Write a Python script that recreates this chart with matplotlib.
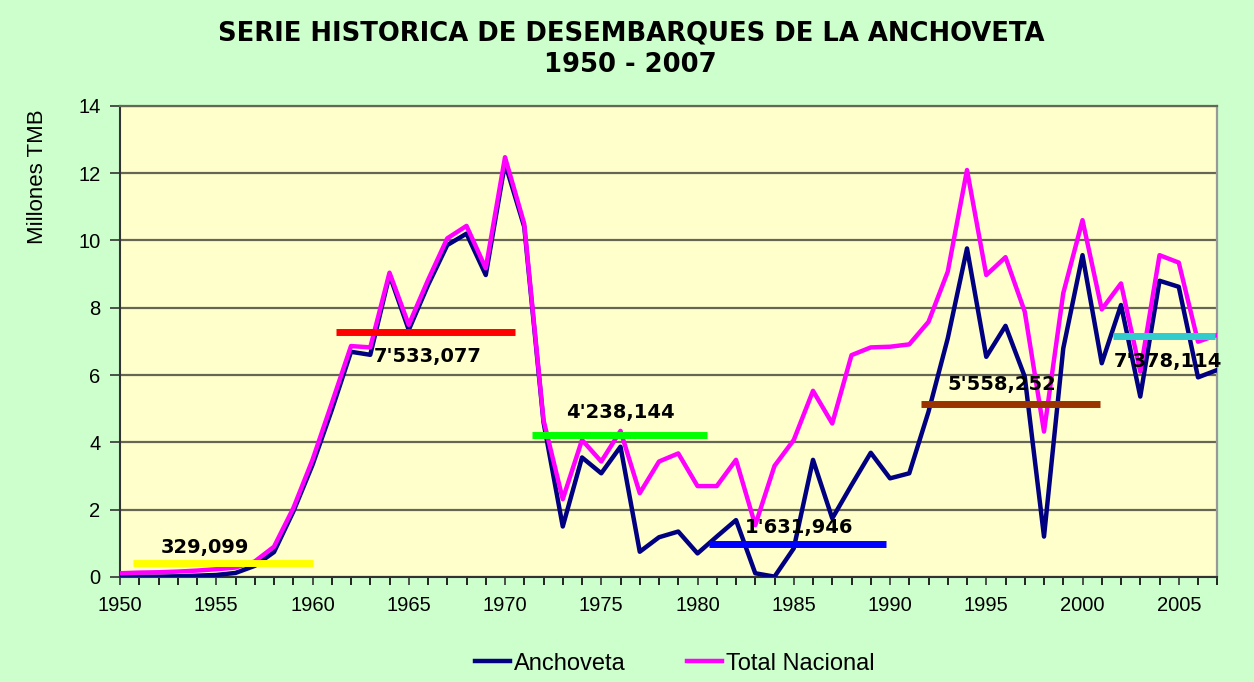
import numpy as np
import matplotlib
matplotlib.use("Agg")
import matplotlib.pyplot as plt

plt.rcParams["font.family"] = ["Liberation Sans", "DejaVu Sans"]

# data (millions of tonnes)
years = list(range(1950, 2008))
anchoveta = [
    0.00, 0.01, 0.01, 0.02, 0.04, 0.06, 0.12, 0.33, 0.74, 1.94,
    3.33, 4.96, 6.69, 6.60, 8.97, 7.34, 8.67, 9.86, 10.20, 8.97,
    12.29, 10.40, 4.60, 1.50, 3.55, 3.08, 3.87, 0.75, 1.18, 1.35,
    0.70, 1.20, 1.69, 0.11, 0.01, 0.85, 3.48, 1.74, 2.73, 3.69,
    2.93, 3.08, 4.91, 7.09, 9.76, 6.54, 7.46, 5.95, 1.20, 6.79,
    9.56, 6.35, 8.08, 5.36, 8.80, 8.62, 5.93, 6.15,
]
total_nacional = [
    0.11, 0.13, 0.14, 0.16, 0.19, 0.23, 0.28, 0.46, 0.90, 2.04,
    3.48, 5.16, 6.86, 6.82, 9.04, 7.49, 8.82, 10.06, 10.43, 9.17,
    12.47, 10.49, 4.66, 2.31, 4.07, 3.43, 4.34, 2.49, 3.43, 3.67,
    2.70, 2.70, 3.48, 1.54, 3.30, 4.07, 5.53, 4.56, 6.59, 6.82,
    6.84, 6.91, 7.58, 9.07, 12.09, 8.97, 9.50, 7.88, 4.32, 8.43,
    10.60, 7.95, 8.72, 6.10, 9.56, 9.34, 6.99, 7.19,
]

# period averages: start, end, level, label, label position, colour
avg_start = [1950.7, 1961.2, 1971.4, 1980.6, 1991.6, 2001.6]
avg_end = [1960.0, 1970.5, 1980.5, 1989.8, 2000.9, 2006.9]
avg_level = [0.41, 7.29, 4.21, 0.98, 5.14, 7.16]
avg_label = ["329,099", "7'533,077", "4'238,144", "1'631,946", "5'558,252", "7'378,114"]
label_x = [1954.4, 1966.0, 1976.0, 1985.3, 1995.8, 2004.45]
label_y = [0.89, 6.55, 4.88, 1.47, 5.71, 6.40]
avg_colors = ["#FFFF00", "#FF0000", "#00FF00", "#0000FF", "#993300", "#33CCCC"]

fig = plt.figure(figsize=(12.54, 6.82), dpi=100, facecolor="#CCFFCC")
ax = fig.add_axes([0.0957, 0.154, 0.875, 0.691])
ax.set_facecolor("#FFFFCC")

ax.plot(years, anchoveta, color="#000080", lw=3.2, label="Anchoveta", zorder=3)
ax.plot(years, total_nacional, color="#FF00FF", lw=3.2, label="Total Nacional", zorder=3)

for x0, x1, lev, col in zip(avg_start, avg_end, avg_level, avg_colors):
    ax.plot([x0, x1], [lev, lev], color=col, lw=5, solid_capstyle="butt", zorder=4)
for tx, ty, txt in zip(label_x, label_y, avg_label):
    ax.text(tx, ty, txt, ha="center", va="center", fontsize=14,
            fontweight="bold", family="DejaVu Sans", color="black", zorder=5)

ax.set_xlim(1950, 2007)
ax.set_ylim(0, 14)
ax.set_xticks(range(1950, 2006, 5))
ax.set_xticks(years, minor=True)
ax.set_yticks(range(0, 15, 2))
ax.tick_params(axis="both", labelsize=14.5, direction="out", color="#333333")
ax.tick_params(axis="x", which="both", length=6, width=1.2, pad=8)
ax.tick_params(axis="y", length=7, width=1.2, pad=7)
ax.grid(axis="y", color="#666655", lw=1.6, zorder=1)
ax.set_axisbelow(True)

for side in ["left", "bottom"]:
    ax.spines[side].set_color("#333333")
    ax.spines[side].set_linewidth(1.5)
ax.spines["top"].set_color("#666655")
ax.spines["top"].set_linewidth(1.6)
ax.spines["right"].set_color("#999999")
ax.spines["right"].set_linewidth(1.6)

ax.set_ylabel("Millones TMB", fontsize=16)
ax.yaxis.set_label_coords(-0.066, 0.85)

fig.text(0.503, 0.951, "SERIE HISTORICA DE DESEMBARQUES DE LA ANCHOVETA",
         ha="center", va="center", fontsize=18.6, fontweight="bold",
         family="DejaVu Sans")
fig.text(0.503, 0.905, "1950 - 2007", ha="center", va="center",
         fontsize=18.6, fontweight="bold", family="DejaVu Sans")

fig.legend(loc="center", bbox_to_anchor=(0.538, 0.027), ncol=2, frameon=False,
           fontsize=17, handlelength=1.5, handletextpad=0.15, columnspacing=2.6)

fig.savefig("out.png", dpi=100, facecolor=fig.get_facecolor())
